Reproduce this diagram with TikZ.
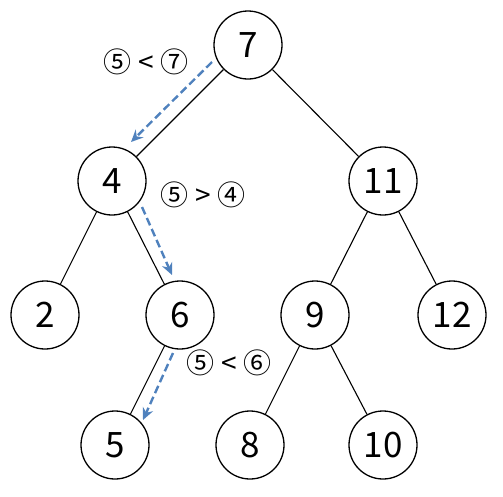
\documentclass[tikz,border=0pt]{standalone}
\usepackage{fontspec}
\setmainfont{Noto Sans CJK KR}
\usepackage{tikz}
\usetikzlibrary{arrows.meta}
\definecolor{pathblue}{RGB}{79,129,189}

\begin{document}
\begin{tikzpicture}[x=1pt, y=-1pt,
    key node/.style={circle, draw, line width=1.3pt, minimum size=68pt, inner sep=0pt, font=\fontsize{35}{40}\selectfont},
    cmp label/.style={font=\fontsize{28}{30}\selectfont},
    tree edge/.style={line width=1.1pt},
    search arrow/.style={pathblue, line width=2.4pt, dash pattern=on 8pt off 4pt, -{Stealth[length=12pt, width=11pt, inset=4pt]}}]
    \useasboundingbox (0,0) rectangle (503,496);
    \foreach \name/\x/\y in {7/248/45, 4/112/181, 11/383/181, 2/45/315, 6/180/315, 9/315/315, 12/452/315, 5/115/445, 8/250/445, 10/383/445}
        \node[key node] (n\name) at (\x,\y) {\name};
    \draw[tree edge] (n7) -- (n4);
    \draw[tree edge] (n7) -- (n11);
    \draw[tree edge] (n4) -- (n2);
    \draw[tree edge] (n4) -- (n6);
    \draw[tree edge] (n6) -- (n5);
    \draw[tree edge] (n11) -- (n9);
    \draw[tree edge] (n11) -- (n12);
    \draw[tree edge] (n9) -- (n8);
    \draw[tree edge] (n9) -- (n10);
    % search path for 5
    \coordinate (s1) at (212,62);  \coordinate (e1) at (131,142);
    \coordinate (s2) at (142,207); \coordinate (e2) at (172,275);
    \coordinate (s3) at (173,353); \coordinate (e3) at (143,420);
    \draw[search arrow] (s1) -- (e1);
    \draw[search arrow] (s2) -- (e2);
    \draw[search arrow] (s3) -- (e3);
    \node[cmp label] (c1) at (146,62) {⑤ < ⑦};
    \node[cmp label] (c2) at (203,195) {⑤ > ④};
    \node[cmp label] (c3) at (229,363) {⑤ < ⑥};
\end{tikzpicture}
\end{document}
